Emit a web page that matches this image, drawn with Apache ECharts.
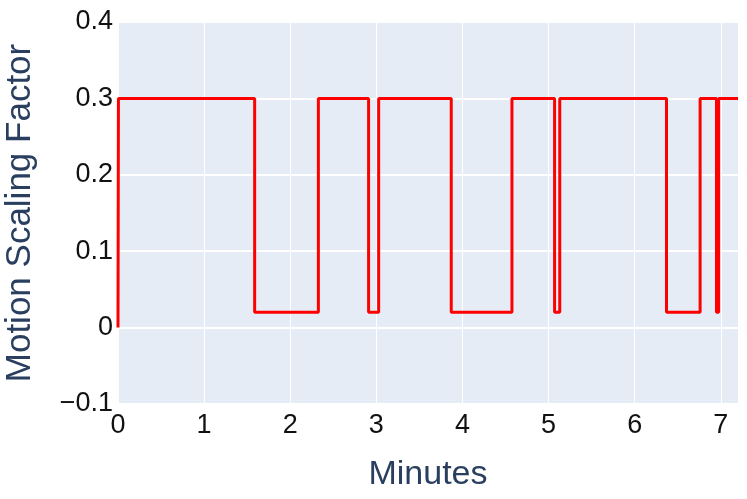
<!DOCTYPE html>
<html>
<head>
<meta charset="utf-8">
<script src="https://cdn.jsdelivr.net/npm/echarts@6/dist/echarts.min.js"></script>
<style>
  html, body { margin: 0; padding: 0; background: #fff; }
  #main { width: 747px; height: 499px; }
</style>
</head>
<body>
<div id="main"></div>
<script>
// change points: value holds from this minute until the next one
var minutes = [0, 0.005, 1.587, 2.327, 2.91, 3.027, 3.87, 4.575, 5.07, 5.13, 6.37, 6.76, 6.95, 6.975, 7.2];
var scaling = [0, 0.3, 0.02, 0.3, 0.02, 0.3, 0.02, 0.3, 0.02, 0.3, 0.02, 0.3, 0.02, 0.3, 0.3];
var yTicks = [-0.1, 0, 0.1, 0.2, 0.3, 0.4];

var points = minutes.map(function (m, i) { return [m, scaling[i]]; });

var chart = echarts.init(document.getElementById('main'));
var font = 'Liberation Sans, Arial, sans-serif';

chart.setOption({
    animation: false,
    backgroundColor: '#fff',
    grid: {
        left: 118, right: 9, top: 22, bottom: 95,
        outerBoundsMode: 'none', containLabel: false,
        show: true, backgroundColor: '#E5ECF6', borderWidth: 0
    },
    xAxis: {
        type: 'value',
        min: 0, max: 7.2, interval: 1,
        name: 'Minutes',
        nameLocation: 'middle',
        nameGap: 54,
        nameTextStyle: { fontFamily: font, fontSize: 34, color: '#2a3f5f' },
        axisLine: { show: false },
        axisTick: { show: false },
        axisLabel: {
            fontFamily: font, fontSize: 27, color: '#111', margin: 8,
            showMaxLabel: false,
            formatter: function (v) { return Number.isInteger(v) ? String(v) : ''; }
        },
        splitLine: { show: true, lineStyle: { color: '#fff', width: 1 } }
    },
    yAxis: {
        type: 'value',
        min: -0.1, max: 0.4, interval: 0.1,
        name: 'Motion Scaling Factor',
        nameLocation: 'middle',
        nameGap: 80,
        nameTextStyle: { fontFamily: font, fontSize: 35, color: '#2a3f5f' },
        axisLine: { show: false },
        axisTick: { show: false },
        axisLabel: {
            fontFamily: font, fontSize: 27, color: '#111', margin: 5,
            formatter: function (v) {
                var r = Math.round(v * 10) / 10;
                if (yTicks.indexOf(r) < 0) return '';
                if (r === 0) return '0';
                return r < 0 ? '\u2212' + Math.abs(r).toFixed(1) : r.toFixed(1);
            }
        },
        splitLine: { show: true, lineStyle: { color: '#fff', width: 2 } }
    },
    series: [{
        type: 'line',
        step: 'end',
        data: points,
        showSymbol: false,
        lineStyle: { color: '#ff0000', width: 3 },
        clip: true
    }]
});
</script>
</body>
</html>
